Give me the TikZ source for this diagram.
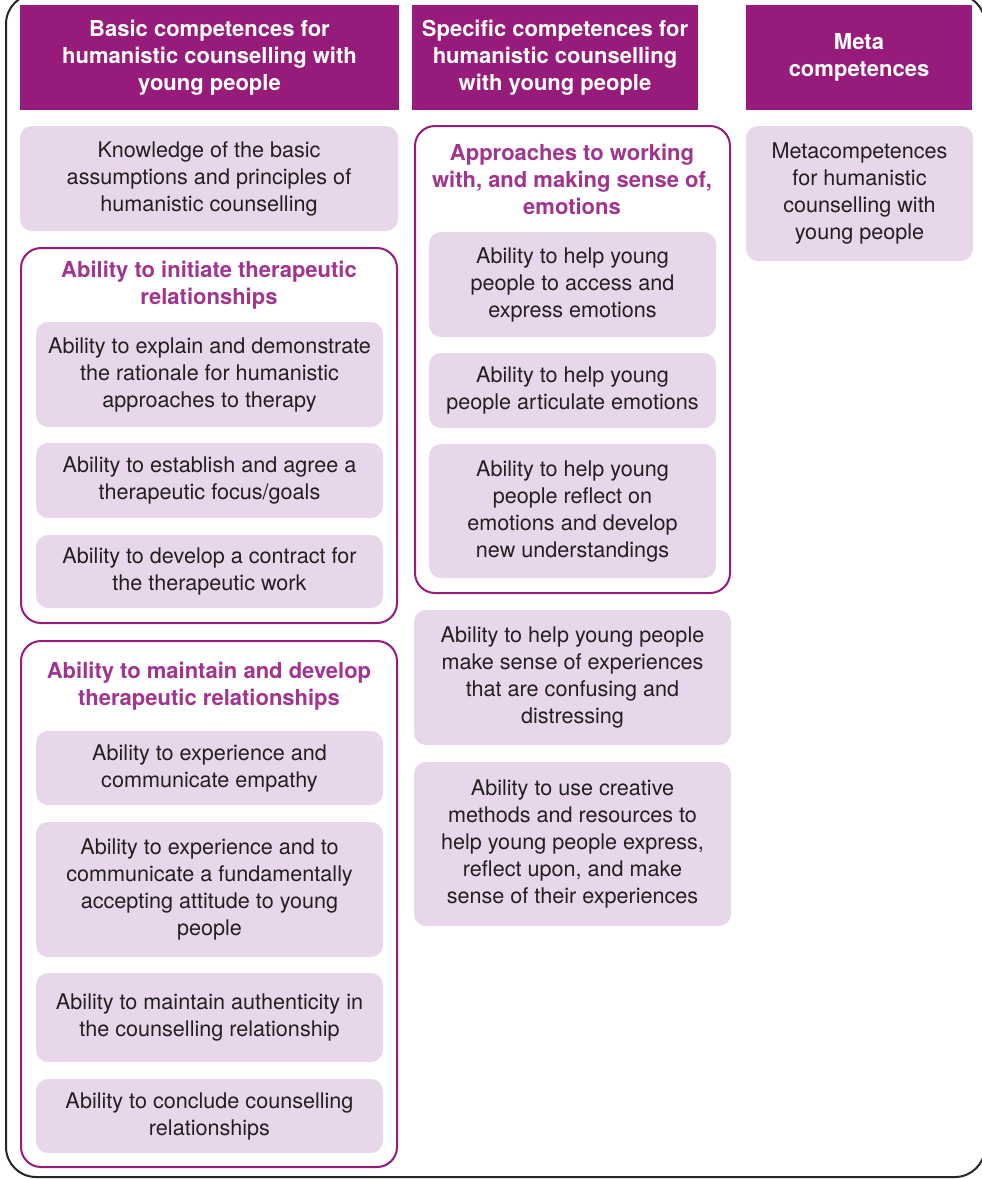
\documentclass[tikz,border=0pt]{standalone}
\usepackage{fontspec}
\setmainfont{TeX Gyre Heros}
\definecolor{HeadPurple}{RGB}{150,27,123}
\definecolor{TitlePurple}{RGB}{161,52,142}
\definecolor{Lilac}{RGB}{232,215,234}
\definecolor{BodyText}{RGB}{35,31,32}

\begin{document}
\begin{tikzpicture}[x=0.5pt, y=-0.5pt,
		every node/.style={font=\fontsize{10.8}{13.5}\selectfont, align=center, inner sep=0pt},
		size/.style 2 args={minimum width=#1, minimum height=#2},
		head/.style={fill=HeadPurple, text=white, font=\fontsize{11}{13.5}\selectfont\bfseries},
		comp/.style={fill=Lilac, rounded corners=6pt, text=BodyText},
		group/.style={draw=HeadPurple, line width=1pt, rounded corners=10pt},
		grouptitle/.style={text=TitlePurple, font=\fontsize{11}{13.5}\selectfont\bfseries},
		frame/.style={draw=black!85, line width=1pt, rounded corners=15pt}]
	\useasboundingbox (0,0) rectangle (981,1179);
	\draw[frame] (6,-6) rectangle (985,1177);

	% column headings
	\node[head, size={189.5pt}{52.5pt}] (h1) at (209.5,57.5) {Basic competences for\\humanistic counselling with\\young people};
	\node[head, size={143pt}{52.5pt}] (h2) at (555,57.5) {Specific competences for\\humanistic counselling\\with young people};
	\node[head, size={113pt}{52.5pt}] (h3) at (859,57.5) {Meta\\competences};

	% basic competences
	\node[comp, size={189pt}{52.5pt}] (know) at (209,178.5) {Knowledge of the basic\\assumptions and principles of\\humanistic counselling};

	\node[group, size={188pt}{187.5pt}] (initiate) at (209,435.5) {};
	\node[grouptitle] (initiate title) at (209,285) {Ability to initiate therapeutic\\relationships};
	\node[comp, size={173.5pt}{52.5pt}] (explain) at (209.5,374.5) {Ability to explain and demonstrate\\the rationale for humanistic\\approaches to therapy};
	\node[comp, size={173.5pt}{37.5pt}] (focus) at (209.5,480.5) {Ability to establish and agree a\\therapeutic focus/goals};
	\node[comp, size={173.5pt}{36.5pt}] (contract) at (209.5,571.5) {Ability to develop a contract for\\the therapeutic work};

	\node[group, size={188pt}{263pt}] (maintain) at (209,904) {};
	\node[grouptitle] (maintain title) at (209,686) {Ability to maintain and develop\\therapeutic relationships};
	\node[comp, size={173.5pt}{37pt}] (empathy) at (209.5,768) {Ability to experience and\\communicate empathy};
	\node[comp, size={173.5pt}{67.5pt}] (accept) at (209.5,889.5) {Ability to experience and to\\communicate a fundamentally\\accepting attitude to young\\people};
	\node[comp, size={173.5pt}{44.5pt}] (authentic) at (209.5,1017.5) {Ability to maintain authenticity in\\the counselling relationship};
	\node[comp, size={173.5pt}{37pt}] (conclude) at (209.5,1116) {Ability to conclude counselling\\relationships};

	% specific competences
	\node[group, size={157.5pt}{233.5pt}] (emotions) at (572.5,359.5) {};
	\node[grouptitle] (emotions title) at (572,179) {Approaches to working\\with, and making sense of,\\emotions};
	\node[comp, size={143.5pt}{52.5pt}] (access) at (572.5,284.5) {Ability to help young\\people to access and\\express emotions};
	\node[comp, size={143.5pt}{37.5pt}] (articulate) at (572.5,390.5) {Ability to help young\\people articulate emotions};
	\node[comp, size={143.5pt}{67pt}] (reflect) at (572.5,511) {Ability to help young\\people reflect on\\emotions and develop\\new understandings};
	\node[comp, size={158.5pt}{67.5pt}] (sense) at (572.5,677.5) {Ability to help young people\\make sense of experiences\\that are confusing and\\distressing};
	\node[comp, size={158.5pt}{82pt}] (creative) at (572.5,844) {Ability to use creative\\methods and resources to\\help young people express,\\reflect upon, and make\\sense of their experiences};

	% metacompetences
	\node[comp, size={113.5pt}{67.5pt}] (meta) at (859.5,193.5) {Metacompetences\\for humanistic\\counselling with\\young people};
\end{tikzpicture}
\end{document}
